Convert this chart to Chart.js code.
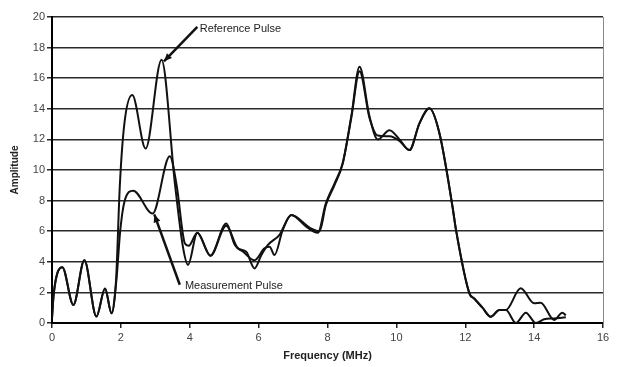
<!DOCTYPE html>
<html>
<head>
<meta charset="utf-8">
<script src="https://cdn.jsdelivr.net/npm/chart.js@4/dist/chart.umd.min.js"></script>
<style>
  html, body { margin: 0; padding: 0; background: #fff; }
  #wrap { width: 625px; height: 367px; position: relative; }
</style>
</head>
<body>
<div id="wrap"><canvas id="c" width="625" height="367"></canvas></div>
<script>
// ---- data ----
const refFreq = [0, 0.05, 0.3, 0.62, 0.94, 1.29, 1.54, 1.73, 1.86, 1.97, 2.1, 2.33, 2.72, 3.18, 3.57, 3.8, 3.95, 4.22, 4.6, 5.06, 5.4, 5.64, 5.88, 6.08, 6.27, 6.6, 6.95, 7.38, 7.72, 7.95, 8.2, 8.44, 8.69, 8.93, 9.22, 9.46, 9.8, 10.09, 10.38, 10.67, 10.96, 11.25, 11.63, 11.73, 12.12, 12.26, 12.5, 12.74, 12.99, 13.18, 13.47, 13.76, 14.05, 14.29, 14.58, 14.92];
const refAmp  = [0.3, 1.9, 3.65, 1.18, 4.1, 0.42, 2.25, 0.63, 2.8, 9.0, 13.0, 14.9, 11.4, 17.2, 9.1, 5.0, 3.8, 5.9, 4.4, 6.35, 4.88, 4.66, 3.57, 4.44, 5.1, 5.75, 7.06, 6.3, 5.9, 7.8, 9.1, 10.44, 13.5, 16.75, 13.5, 12.0, 12.6, 12.0, 11.3, 13.05, 14.03, 12.4, 7.6, 6.1, 1.94, 1.6, 1.0, 0.41, 0.85, 0.85, 0.0, 0.67, 0.0, 0.24, 0.3, 0.37];

const measFreq = [0, 0.05, 0.3, 0.62, 0.94, 1.29, 1.54, 1.73, 1.87, 1.98, 2.1, 2.36, 2.92, 3.42, 3.62, 3.86, 3.97, 4.22, 4.6, 5.06, 5.31, 5.55, 5.88, 6.17, 6.32, 6.46, 6.7, 6.95, 7.5, 7.77, 7.95, 8.2, 8.44, 8.69, 8.93, 9.22, 9.46, 9.8, 10.09, 10.38, 10.67, 10.96, 11.25, 11.63, 11.73, 12.12, 12.26, 12.5, 12.74, 12.99, 13.18, 13.61, 14.0, 14.19, 14.58, 14.82, 14.92];
const measAmp  = [0.3, 1.9, 3.65, 1.18, 4.1, 0.42, 2.25, 0.63, 2.8, 6.0, 7.9, 8.65, 7.15, 10.9, 9.0, 5.2, 5.05, 5.9, 4.4, 6.5, 5.1, 4.66, 4.1, 4.88, 4.99, 4.44, 6.08, 7.06, 6.2, 6.0, 7.7, 9.0, 10.4, 13.4, 16.45, 13.4, 12.25, 12.2, 11.9, 11.3, 13.05, 14.03, 12.4, 7.6, 6.1, 1.94, 1.6, 1.0, 0.41, 0.85, 0.85, 2.27, 1.29, 1.33, 0.2, 0.67, 0.5];

const xTicks = [0, 2, 4, 6, 8, 10, 12, 14, 16];
const yTicks = [0, 2, 4, 6, 8, 10, 12, 14, 16, 18, 20];

const seriesNames = ['Reference Pulse', 'Measurement Pulse'];
const xTitle = 'Frequency (MHz)';
const yTitle = 'Amplitude';

// annotation labels (data-space anchors)
const annotations = [
  { text: 'Reference Pulse',   textAt: [4.29, 19.25], from: [4.22, 19.35], to: [3.25, 17.1] },
  { text: 'Measurement Pulse', textAt: [3.86, 2.42],  from: [3.71, 2.5],   to: [2.97, 7.1] }
];

function toPoints(xs, ys) { return xs.map((x, i) => ({ x: x, y: ys[i] })); }

const annotPlugin = {
  id: 'annot',
  afterDatasetsDraw(chart) {
    const { ctx, chartArea, scales: { x, y } } = chart;
    ctx.save();
    // right frame line
    ctx.strokeStyle = '#8a8a8a';
    ctx.lineWidth = 1;
    ctx.beginPath();
    ctx.moveTo(chartArea.right + 0.5, chartArea.top);
    ctx.lineTo(chartArea.right + 0.5, chartArea.bottom);
    ctx.stroke();

    annotations.forEach(a => {
      const x1 = x.getPixelForValue(a.from[0]), y1 = y.getPixelForValue(a.from[1]);
      const x2 = x.getPixelForValue(a.to[0]),   y2 = y.getPixelForValue(a.to[1]);
      ctx.strokeStyle = '#111';
      ctx.fillStyle = '#111';
      ctx.lineWidth = 2.5;
      ctx.beginPath();
      ctx.moveTo(x1, y1);
      ctx.lineTo(x2, y2);
      ctx.stroke();
      const ang = Math.atan2(y2 - y1, x2 - x1);
      const L = 8, W = 3.5;
      ctx.beginPath();
      ctx.moveTo(x2, y2);
      ctx.lineTo(x2 - L * Math.cos(ang) + W * Math.sin(ang), y2 - L * Math.sin(ang) - W * Math.cos(ang));
      ctx.lineTo(x2 - L * Math.cos(ang) - W * Math.sin(ang), y2 - L * Math.sin(ang) + W * Math.cos(ang));
      ctx.closePath();
      ctx.fill();
      ctx.font = '11px "Liberation Sans", Arial, sans-serif';
      ctx.fillStyle = '#222';
      ctx.textAlign = 'left';
      ctx.textBaseline = 'middle';
      ctx.fillText(a.text, x.getPixelForValue(a.textAt[0]), y.getPixelForValue(a.textAt[1]));
    });
    ctx.restore();
  }
};

const tickFont = { family: '"Liberation Sans", Arial, sans-serif', size: 11 };

new Chart(document.getElementById('c'), {
  type: 'line',
  data: {
    datasets: [
      { label: seriesNames[0], data: toPoints(refFreq, refAmp), borderColor: '#111', borderWidth: 2, pointRadius: 0, cubicInterpolationMode: 'monotone', fill: false },
      { label: seriesNames[1], data: toPoints(measFreq, measAmp), borderColor: '#111', borderWidth: 2, pointRadius: 0, cubicInterpolationMode: 'monotone', fill: false }
    ]
  },
  options: {
    responsive: false,
    animation: false,
    devicePixelRatio: 1,
    layout: { padding: { top: 17, right: 22, left: 0, bottom: 0 } },
    plugins: { legend: { display: false }, tooltip: { enabled: false } },
    scales: {
      x: {
        type: 'linear', min: 0, max: 16,
        afterBuildTicks: s => { s.ticks = xTicks.map(v => ({ value: v })); },
        afterFit: s => { s.height = 44; },
        ticks: { color: '#444', font: tickFont, padding: 3, maxRotation: 0 },
        grid: { drawOnChartArea: false, drawTicks: true, tickLength: 5, color: '#222', lineWidth: 1.5 },
        border: { display: true, color: '#000', width: 2 },
        title: { display: true, text: xTitle, color: '#222', font: { family: '"Liberation Sans", Arial, sans-serif', size: 11, weight: 'bold' }, padding: { top: 0, bottom: 4 } }
      },
      y: {
        type: 'linear', min: 0, max: 20,
        afterBuildTicks: s => { s.ticks = yTicks.map(v => ({ value: v })); },
        afterFit: s => { s.width = 52; },
        ticks: { color: '#444', font: tickFont, padding: 2 },
        grid: { drawOnChartArea: true, drawTicks: true, tickLength: 5, color: '#2a2a2a', lineWidth: 1.5 },
        border: { display: true, color: '#000', width: 2 },
        title: { display: true, text: yTitle, color: '#222', font: { family: '"Liberation Sans", Arial, sans-serif', size: 10, weight: 'bold' }, padding: { top: 9, bottom: 0 } }
      }
    }
  },
  plugins: [annotPlugin]
});
</script>
</body>
</html>
